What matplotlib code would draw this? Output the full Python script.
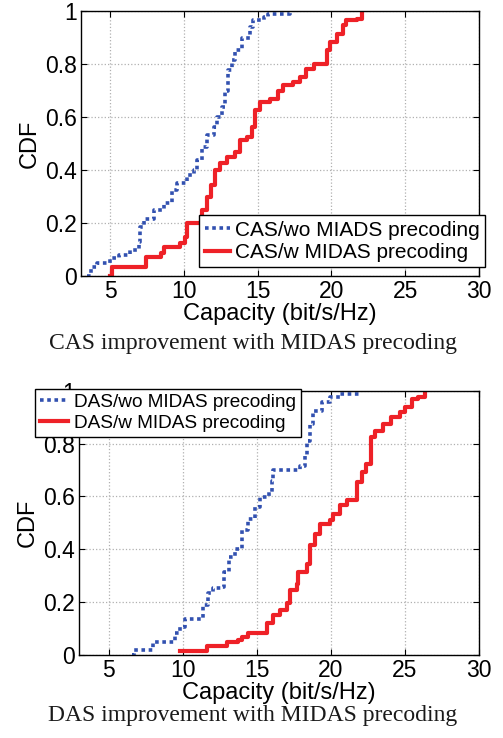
import matplotlib
matplotlib.use('Agg')
import matplotlib.pyplot as plt
import numpy as np

# Step-CDF knots (capacity in bit/s/Hz, CDF)
cas_wo_x = [3.42, 3.65, 4.1, 5.0, 5.56, 6.36, 6.92, 7.03, 7.26, 7.94, 8.6, 9.18, 9.52, 10.2,
            10.65, 10.87, 11.2, 11.55, 12.0, 12.23, 12.57, 12.8, 13.0, 13.24, 13.47, 13.9,
            14.5, 14.7, 15.4, 15.7, 17.2]
cas_wo_y = [0.0, 0.035, 0.048, 0.067, 0.08, 0.098, 0.13, 0.186, 0.217, 0.25, 0.274, 0.324, 0.35,
            0.38, 0.40, 0.437, 0.487, 0.531, 0.563, 0.60, 0.638, 0.70, 0.776, 0.814, 0.852,
            0.90, 0.94, 0.965, 0.977, 0.99, 1.0]

cas_w_x = [5.0, 5.1, 7.4, 8.4, 8.6, 9.74, 10.08, 10.2, 11.1, 11.2, 11.55, 11.8, 12.1, 12.45,
           12.9, 13.47, 13.8, 14.26, 14.6, 14.8, 15.16, 15.84, 16.4, 16.74, 17.4, 17.85, 18.3,
           18.8, 19.7, 19.9, 20.36, 20.8, 21.0, 21.7, 22.05]
cas_w_y = [0.0, 0.035, 0.073, 0.085, 0.11, 0.123, 0.148, 0.20, 0.20, 0.25, 0.30, 0.343, 0.40,
           0.425, 0.45, 0.469, 0.513, 0.525, 0.563, 0.626, 0.657, 0.67, 0.70, 0.72, 0.732,
           0.751, 0.783, 0.80, 0.852, 0.883, 0.915, 0.946, 0.965, 0.971, 1.0]

das_wo_x = [6.57, 6.69, 8.03, 9.5, 9.83, 10.17, 11.4, 11.74, 12.08, 12.64, 12.76, 13.1, 13.54,
            13.99, 14.44, 14.9, 15.23, 15.8, 16.0, 16.13, 17.93, 18.26, 18.38, 18.6, 18.83,
            19.39, 19.95, 20.6, 22.0]
das_wo_y = [0.0, 0.019, 0.05, 0.082, 0.107, 0.138, 0.189, 0.233, 0.252, 0.258, 0.314, 0.371,
            0.403, 0.472, 0.516, 0.56, 0.597, 0.616, 0.66, 0.70, 0.717, 0.755, 0.81, 0.874,
            0.925, 0.956, 0.975, 0.987, 1.0]

das_w_x = [9.83, 11.63, 12.98, 13.77, 14.0, 14.44, 15.68, 16.12, 16.57, 17.03, 17.25, 17.7,
           17.8, 18.38, 18.6, 18.94, 19.28, 19.95, 20.18, 20.63, 21.07, 21.75, 22.09, 22.4,
           22.75, 22.98, 23.55, 24.1, 24.67, 25.0, 25.46, 25.9, 26.35]
das_w_y = [0.015, 0.034, 0.05, 0.057, 0.069, 0.084, 0.12, 0.151, 0.17, 0.195, 0.245, 0.27,
           0.314, 0.346, 0.415, 0.459, 0.497, 0.509, 0.535, 0.566, 0.585, 0.654, 0.692, 0.723,
           0.824, 0.849, 0.874, 0.90, 0.918, 0.937, 0.969, 0.975, 1.0]

x_ticks = [5, 10, 15, 20, 25, 30]
y_ticks = [0, 0.2, 0.4, 0.6, 0.8, 1]
y_tick_labels = ['0', '0.2', '0.4', '0.6', '0.8', '1']

BLUE = '#3251b0'
RED = '#ee2127'

plt.rcParams['font.family'] = ['Liberation Sans', 'DejaVu Sans']

fig = plt.figure(figsize=(5.03, 7.38), dpi=100)
ax_top = fig.add_axes([0.161, 0.626, 0.791, 0.359])
ax_bot = fig.add_axes([0.157, 0.1125, 0.795, 0.358])


def style_axes(ax):
    ax.set_xlim(3, 30)
    ax.set_ylim(0, 1)
    ax.set_xticks(x_ticks)
    ax.set_yticks(y_ticks)
    ax.set_yticklabels(y_tick_labels)
    ax.tick_params(direction='in', top=True, right=True, labelsize=16.5, length=4, pad=3)
    ax.grid(True, color='#b0b0b0', linestyle=':', linewidth=0.9)
    ax.set_xlabel('Capacity (bit/s/Hz)', fontsize=17, labelpad=0)
    ax.set_ylabel('CDF', fontsize=17, labelpad=3)
    for s in ax.spines.values():
        s.set_linewidth(1.0)


ax_top.plot(cas_wo_x, cas_wo_y, drawstyle='steps-post', color=BLUE, linewidth=2.6,
            dashes=(1, 1), label='CAS/wo MIADS precoding')
ax_top.plot(cas_w_x, cas_w_y, drawstyle='steps-post', color=RED, linewidth=3.0,
            label='CAS/w MIDAS precoding')
style_axes(ax_top)
leg_top = ax_top.legend(loc='lower right', bbox_to_anchor=(1.015, 0.034), fontsize=15,
                        frameon=True, fancybox=False, edgecolor='black', framealpha=1,
                        borderaxespad=0, handlelength=1.2, handletextpad=0.25, borderpad=0.25,
                        labelspacing=0.15)
leg_top.get_frame().set_linewidth(1.0)

ax_bot.plot(das_wo_x, das_wo_y, drawstyle='steps-post', color=BLUE, linewidth=2.6,
            dashes=(1, 1), label='DAS/wo MIDAS precoding')
ax_bot.plot(das_w_x, das_w_y, drawstyle='steps-post', color=RED, linewidth=3.0,
            label='DAS/w MIDAS precoding')
style_axes(ax_bot)
leg_bot = ax_bot.legend(loc='upper left', bbox_to_anchor=(-0.11, 1.008), fontsize=13.7,
                        frameon=True, fancybox=False, edgecolor='black', framealpha=1,
                        borderaxespad=0, handlelength=1.5, handletextpad=0.3, borderpad=0.25,
                        labelspacing=0.2)
leg_bot.get_frame().set_linewidth(1.0)

fig.text(0.503, 0.535, 'CAS improvement with MIDAS precoding', ha='center', va='center',
         fontsize=17, family='Liberation Serif', color='#1a1a1a')
fig.text(0.503, 0.031, 'DAS improvement with MIDAS precoding', ha='center', va='center',
         fontsize=17, family='Liberation Serif', color='#1a1a1a')

fig.savefig('out.png', dpi=100)
